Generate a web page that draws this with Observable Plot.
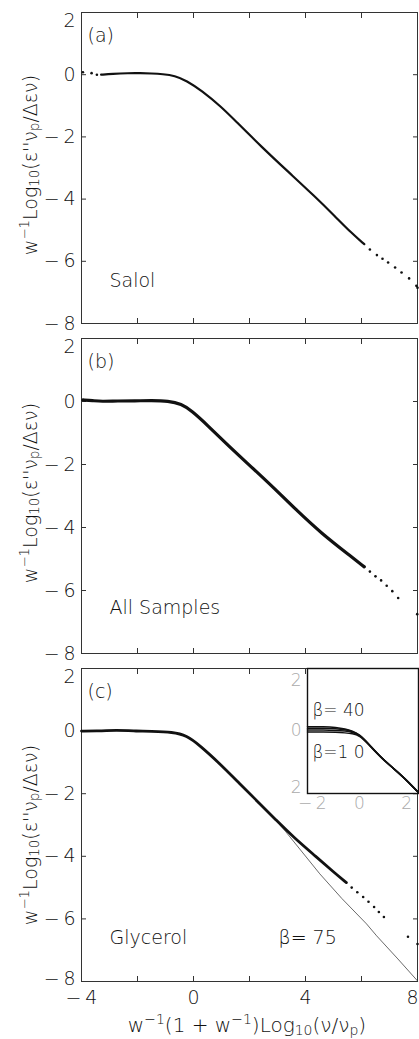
<!DOCTYPE html>
<html>
<head>
<meta charset="utf-8">
<script src="https://cdn.jsdelivr.net/npm/d3@7"></script>
<script src="https://cdn.jsdelivr.net/npm/@observablehq/plot@0.6"></script>
<style>
  html, body { margin: 0; padding: 0; background: #fff; }
  #root { position: relative; width: 419px; height: 1039px; overflow: hidden; background: #fff;
          font-family: "DejaVu Sans ExtraLight", "DejaVu Sans", sans-serif; font-weight: 200; color: #111; }
  .svgwrap { position: absolute; left: 0; }
  .ytitle { position: absolute; white-space: nowrap; font-size: 19px; line-height: 1;
            transform: translate(-50%, -50%) rotate(-90deg); }
  .xtitle { position: absolute; white-space: nowrap; font-size: 20px; line-height: 1; transform: translate(-50%, -50%); }
  sub { font-size: 70%; line-height: 0; vertical-align: -0.2em; }
  sup { font-size: 70%; line-height: 0; vertical-align: 0.6em; }
</style>
</head>
<body>
<div id="root"></div>
<script>
// ---------- data ----------
const xTicks = [-4, -2, 0, 2, 4, 6, 8];
const yTicks = [2, 0, -2, -4, -6, -8];
const yTopLabel = [2];
const yMidLabels = [0, -2, -4, -6];
const yBottomLabel = [-8];
const xLabelTicks = [-4, 0, 4];
const xRightLabel = [8];
const insetXTicks = [-2, 0, 2];
const insetYTop = [2];
const insetYMid = [0];
const insetYBottom = [-2];

// (a) Salol
const salolX = [-3.3, -2.9, -2.33, -1.9, -1.5, -1.1, -0.67, -0.25, 0.29, 1.0, 1.48, 2.43, 3.38, 4.33, 5.05, 5.64, 6.1];
const salolY = [0.0, 0.03, 0.05, 0.05, 0.04, 0.02, -0.03, -0.19, -0.51, -1.04, -1.47, -2.32, -3.12, -3.91, -4.55, -5.09, -5.45];
const salolDotX = [-3.95, -3.64, -3.45, 6.3, 6.55, 6.75, 6.95, 7.2, 7.43, 7.7, 7.96, 8.0];
const salolDotY = [0.08, 0.05, 0.0, -5.62, -5.8, -5.92, -6.04, -6.2, -6.36, -6.55, -6.79, -6.85];

// (b) All samples
const allX = [-3.95, -3.6, -3.29, -2.7, -2.1, -1.5, -0.9, -0.43, -0.07, 0.52, 1.24, 2.07, 2.9, 3.62, 4.57, 5.64, 6.1];
const allY = [0.05, 0.03, 0.0, 0.02, 0.02, 0.03, 0.02, -0.08, -0.29, -0.77, -1.4, -2.08, -2.77, -3.4, -4.19, -4.93, -5.25];
const allDotX = [6.3, 6.5, 6.7, 6.9, 7.1, 7.31, 7.99];
const allDotY = [-5.4, -5.55, -5.68, -5.85, -6.02, -6.24, -6.75];

// (c) Glycerol
const glyX = [-4.0, -3.5, -2.75, -2.0, -1.56, -0.73, -0.25, 0.23, 0.94, 1.65, 2.37, 2.96, 3.56, 4.39, 5.0, 5.46];
const glyY = [0.0, 0.0, 0.03, 0.0, -0.01, -0.03, -0.14, -0.46, -1.04, -1.68, -2.32, -2.85, -3.38, -4.02, -4.5, -4.84];
const glyDotX = [5.65, 5.85, 6.06, 6.25, 6.45, 6.62, 6.8, 7.66, 8.0];
const glyDotY = [-5.0, -5.15, -5.3, -5.45, -5.62, -5.78, -5.94, -6.57, -6.8];
// beta = .75 model curve (thin)
const modelX = [2.37, 2.96, 3.3, 4.51, 5.3, 6.18, 6.54, 7.3, 8.0];
const modelY = [-2.32, -2.87, -3.22, -4.56, -5.35, -6.16, -6.54, -7.28, -7.98];

// inset: model curves beta = .40 ... 1.0
const insetX = [-2.2, -1.5, -1.0, -0.6, -0.3, 0.0, 0.4, 0.9, 1.4, 1.9, 2.5];
const insetBeta = ["0.40", "0.55", "0.75", "1.0"];
const insetY040 = [0.14, 0.14, 0.12, 0.07, 0.0, -0.1, -0.42, -0.84, -1.17, -1.5, -1.97];
const insetY055 = [0.09, 0.09, 0.08, 0.04, -0.02, -0.11, -0.42, -0.84, -1.17, -1.5, -1.97];
const insetY075 = [0.03, 0.03, 0.02, 0.0, -0.04, -0.12, -0.43, -0.84, -1.17, -1.5, -1.97];
const insetY100 = [-0.03, -0.03, -0.04, -0.06, -0.08, -0.14, -0.44, -0.85, -1.17, -1.5, -1.97];

// ---------- helpers ----------
const FONT = "'DejaVu Sans ExtraLight', 'DejaVu Sans', sans-serif";
const INK = "#111";
const fmt = d => d < 0 ? "\u2212\u2009" + Math.abs(d) : String(d);
const pts = (xs, ys) => xs.map((x, i) => ({x, y: ys[i]}));

function panel({lineX, lineY, dotX, dotY, lineWidth, tag, name, extra = [], height, marginTop, marginBottom, showX, nameDy}) {
  const yLab = {anchor: "left", tickSize: 0, tickPadding: 6, tickFormat: fmt, label: null, fontSize: 19, fill: INK};
  const marks = [
    Plot.frame({stroke: "#333", strokeWidth: 1}),
    // inward ticks on all four sides
    Plot.axisY(yTicks, {anchor: "left", tickSize: 5, dx: 5, tickFormat: () => "", label: null, stroke: "#333"}),
    Plot.axisY(yTicks, {anchor: "right", tickSize: 5, dx: -5, tickFormat: () => "", label: null, stroke: "#333"}),
    Plot.axisX(xTicks, {anchor: "top", tickSize: 5, dy: 5, tickFormat: () => "", label: null, stroke: "#333"}),
    Plot.axisX(xTicks, {anchor: "bottom", tickSize: 5, dy: -5, tickFormat: () => "", label: null, stroke: "#333"}),
    // tick labels
    Plot.axisY(yMidLabels, yLab),
    Plot.axisY(yTopLabel, {...yLab, dy: 8}),
    Plot.axisY(yBottomLabel, {...yLab, dy: showX ? -3 : 0}),
  ];
  if (showX) {
    marks.push(
      Plot.axisX(xLabelTicks, {anchor: "bottom", tickSize: 0, tickPadding: 9, tickFormat: fmt, label: null, fontSize: 19, fill: INK}),
      Plot.axisX(xRightLabel, {anchor: "bottom", tickSize: 0, tickPadding: 9, dx: -5, tickFormat: fmt, label: null, fontSize: 19, fill: INK})
    );
  }
  marks.push(
    ...extra,
    Plot.line(pts(lineX, lineY), {x: "x", y: "y", stroke: INK, strokeWidth: lineWidth, curve: "basis"}),
    Plot.dot(pts(dotX, dotY), {x: "x", y: "y", r: 1.3, fill: INK, stroke: "none"}),
    Plot.text([tag], {text: d => d, frameAnchor: "top-left", dx: 6, dy: 23, lineAnchor: "middle", textAnchor: "start", fontSize: 19, fill: INK}),
    Plot.text([name], {text: d => d, frameAnchor: "bottom-left", dx: 28, dy: nameDy, lineAnchor: "middle", textAnchor: "start", fontSize: 19, fill: INK})
  );
  return Plot.plot({
    width: 419, height, marginLeft: 81, marginRight: 2, marginTop, marginBottom,
    x: {domain: [-4, 8]}, y: {domain: [-8, 2]},
    style: {fontFamily: FONT, fontWeight: 200, fontSize: "19px", background: "transparent", overflow: "visible"},
    marks
  });
}

const root = document.getElementById("root");
function place(node, left, top) {
  const w = document.createElement("div");
  w.className = "svgwrap";
  w.style.left = left + "px";
  w.style.top = top + "px";
  w.appendChild(node);
  root.appendChild(w);
}

// (a)
place(panel({lineX: salolX, lineY: salolY, dotX: salolDotX, dotY: salolDotY, lineWidth: 2.2,
  tag: "(a)", name: "Salol", height: 340, marginTop: 12, marginBottom: 17, showX: false, nameDy: -43}), 0, 0);

// (b)
place(panel({lineX: allX, lineY: allY, dotX: allDotX, dotY: allDotY, lineWidth: 3.2,
  tag: "(b)", name: "All Samples", height: 334, marginTop: 12, marginBottom: 7, showX: false, nameDy: -46}), 0, 326);

// (c)
const modelMark = Plot.line(pts(modelX, modelY), {x: "x", y: "y", stroke: "#444", strokeWidth: 0.8});
const betaMark = Plot.text(["\u03b2= 75"], {text: d => d, frameAnchor: "bottom-left", dx: 197, dy: -44, lineAnchor: "middle", textAnchor: "start", fontSize: 19, fill: INK});
place(panel({lineX: glyX, lineY: glyY, dotX: glyDotX, dotY: glyDotY, lineWidth: 2.8,
  tag: "(c)", name: "Glycerol", extra: [modelMark, betaMark], height: 383, marginTop: 12, marginBottom: 58, showX: true, nameDy: -44}), 0, 656);

// inset
const insetData = [
  ...pts(insetX, insetY040).map(d => ({...d, b: insetBeta[0]})),
  ...pts(insetX, insetY055).map(d => ({...d, b: insetBeta[1]})),
  ...pts(insetX, insetY075).map(d => ({...d, b: insetBeta[2]})),
  ...pts(insetX, insetY100).map(d => ({...d, b: insetBeta[3]}))
];
const insetLabel = {anchor: "left", tickSize: 0, tickPadding: 6, tickFormat: d => String(Math.abs(d)), label: null, fontSize: 17, fill: "#aaa"};
const inset = Plot.plot({
  width: 132, height: 159, marginLeft: 20, marginRight: 1, marginTop: 12, marginBottom: 22,
  x: {domain: [-2.2, 2.5]}, y: {domain: [-2, 2]},
  style: {fontFamily: FONT, fontWeight: 200, fontSize: "17px", background: "transparent", overflow: "visible"},
  marks: [
    Plot.frame({fill: "white", stroke: "#111", strokeWidth: 1.4}),
    Plot.axisY(insetYTop, {...insetLabel, dy: 12}),
    Plot.axisY(insetYMid, insetLabel),
    Plot.axisY(insetYBottom, {...insetLabel, dy: -6}),
    Plot.axisX(insetXTicks, {anchor: "bottom", tickSize: 0, tickPadding: 3, tickFormat: fmt, label: null, fontSize: 17, fill: "#aaa"}),
    Plot.line(insetData, {x: "x", y: "y", z: "b", stroke: INK, strokeWidth: 1.5, curve: "basis"}),
    Plot.text(["\u03b2= 40"], {text: d => d, frameAnchor: "top-left", dx: 5, dy: 42, lineAnchor: "middle", textAnchor: "start", fontSize: 17, fill: INK}),
    Plot.text(["\u03b2=1 0"], {text: d => d, frameAnchor: "top-left", dx: 5, dy: 84, lineAnchor: "middle", textAnchor: "start", fontSize: 17, fill: INK})
  ]
});
place(inset, 287, 656);

// axis titles
const yTitleHTML = "w<sup>\u22121</sup>Log<sub>10</sub>(\u03b5''\u03bd<sub>p</sub>/\u0394\u03b5\u03bd)";
[165, 493, 835].forEach(cy => {
  const t = document.createElement("div");
  t.className = "ytitle";
  t.style.left = "30px";
  t.style.top = cy + "px";
  t.innerHTML = yTitleHTML;
  root.appendChild(t);
});
const xt = document.createElement("div");
xt.className = "xtitle";
xt.style.left = "247px";
xt.style.top = "1025px";
xt.innerHTML = "w<sup>\u22121</sup>(1 + w<sup>\u22121</sup>)Log<sub>10</sub>(\u03bd/\u03bd<sub>p</sub>)";
root.appendChild(xt);
</script>
</body>
</html>
